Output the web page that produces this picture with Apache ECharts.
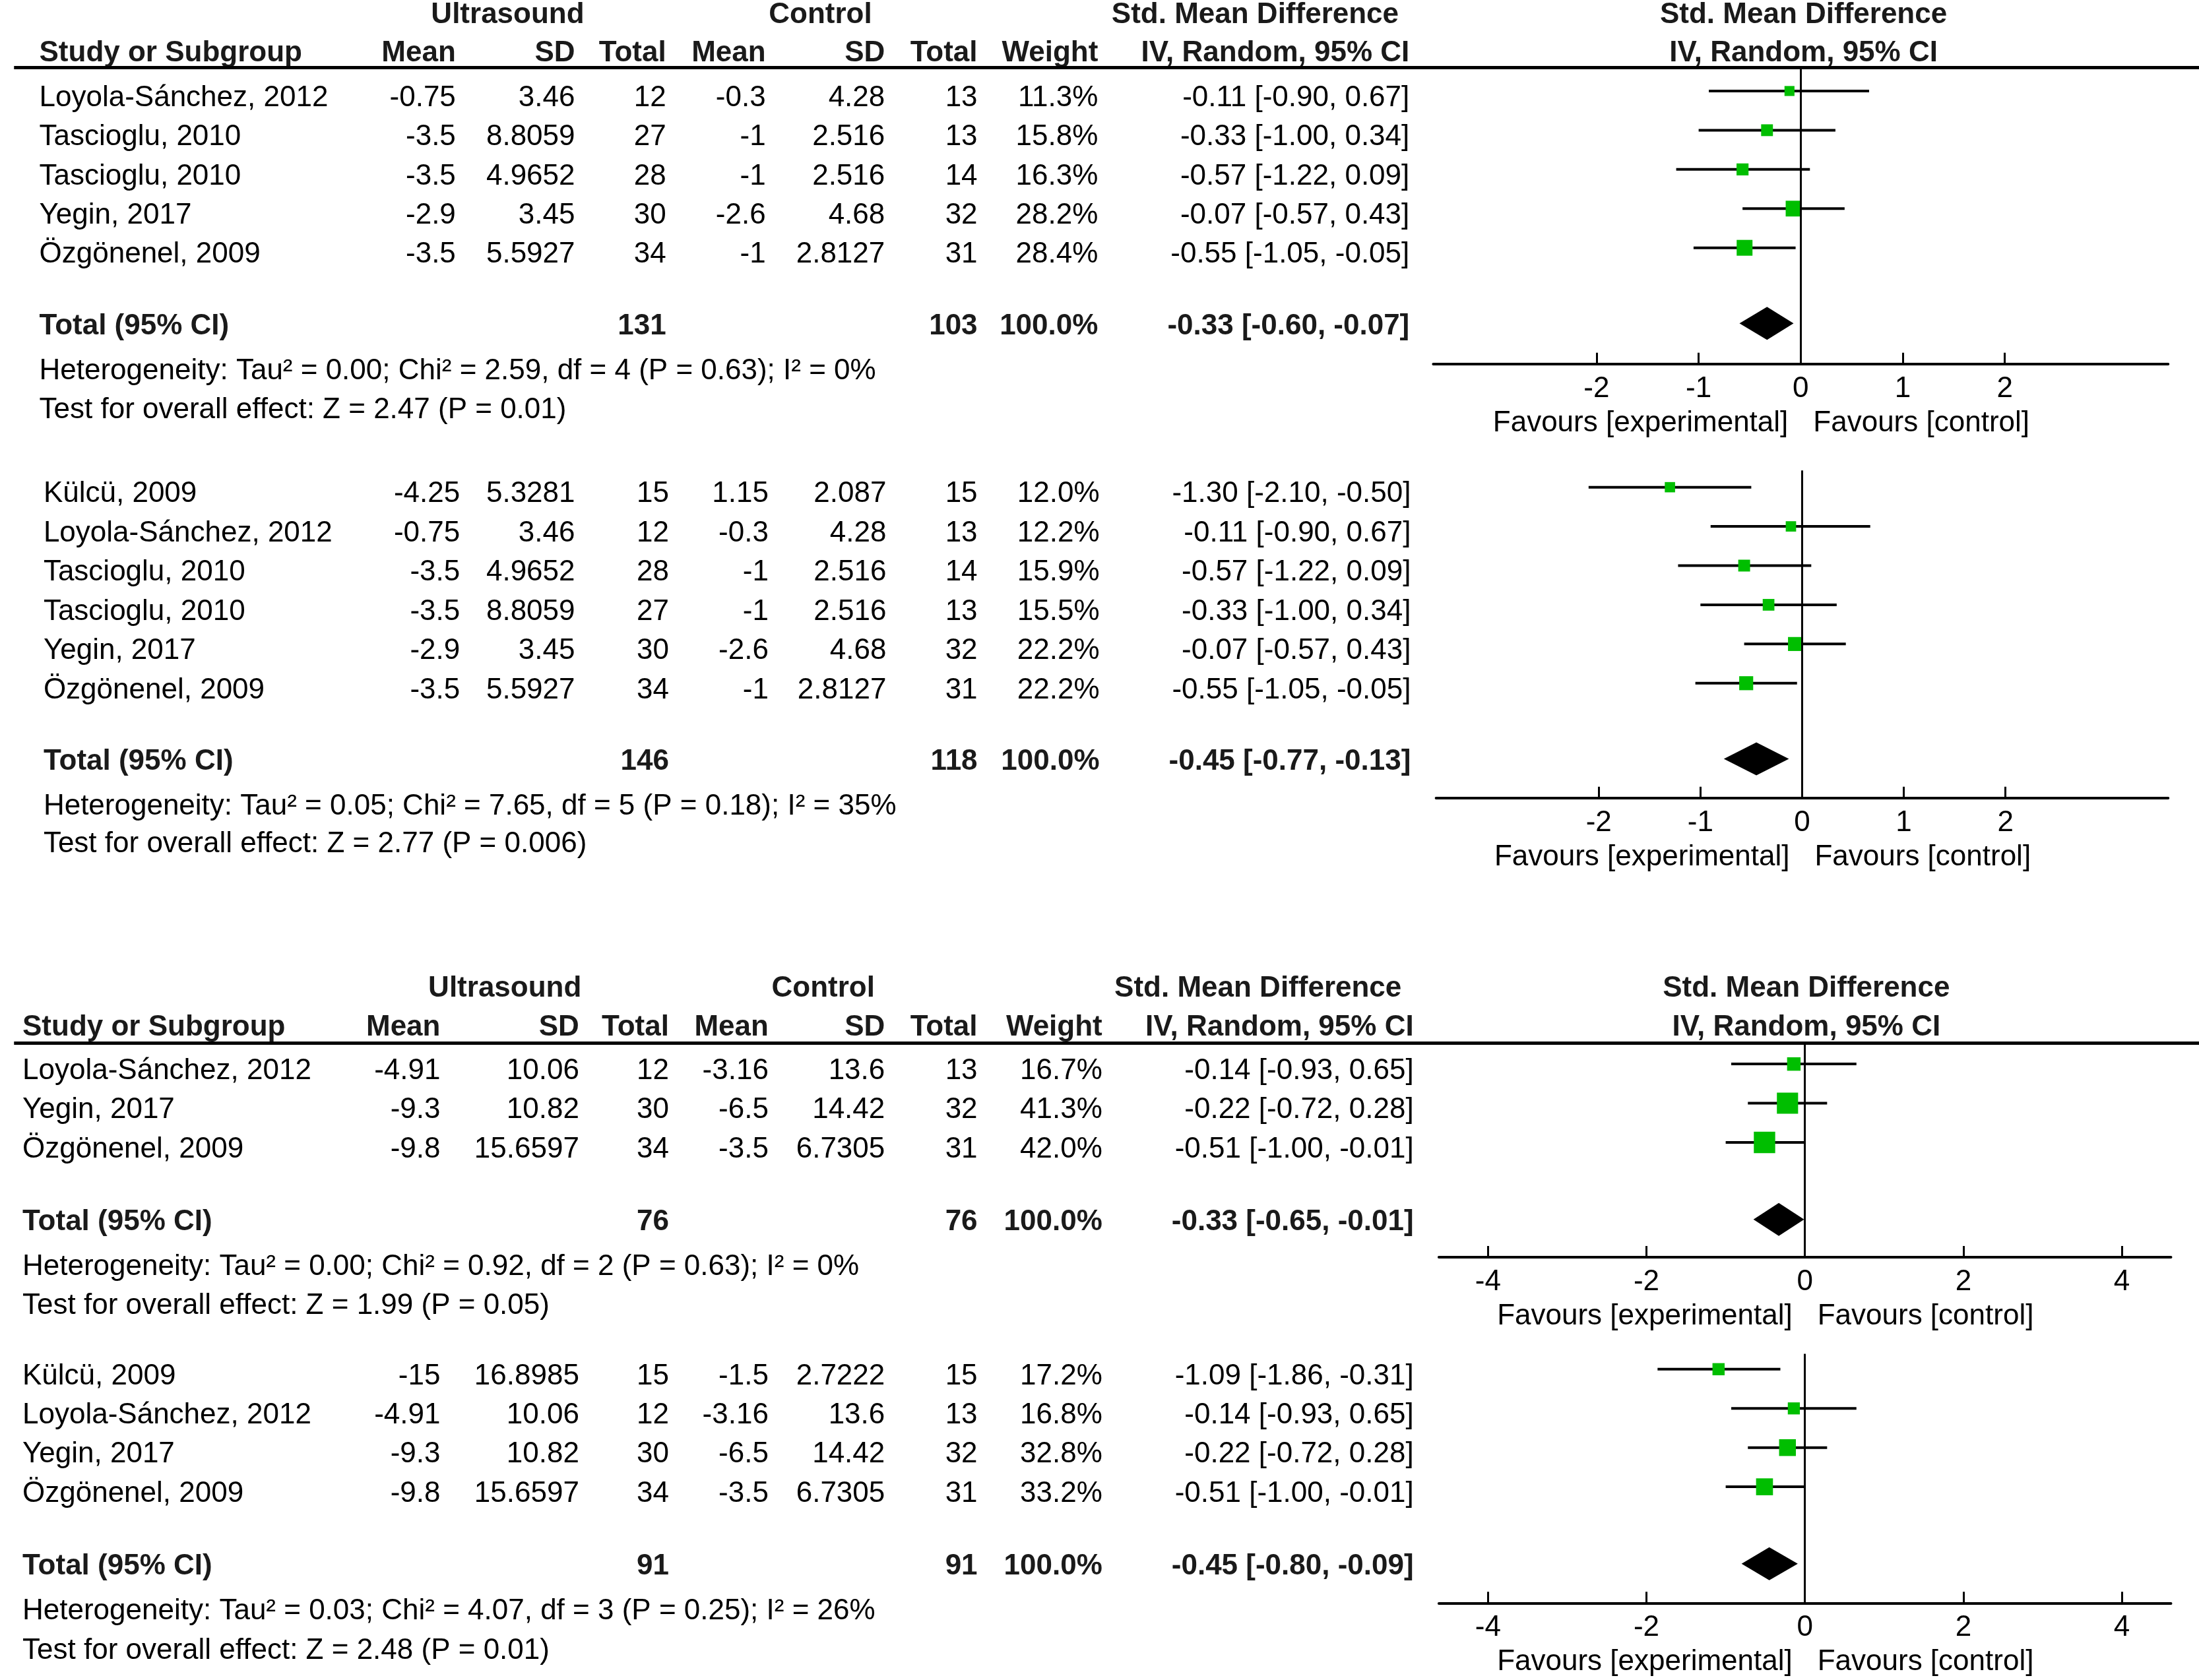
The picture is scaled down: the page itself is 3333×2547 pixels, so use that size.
<!DOCTYPE html>
<html><head><meta charset="utf-8">
<script src="https://cdn.jsdelivr.net/npm/echarts@6/dist/echarts.min.js"></script>
<style>html,body{margin:0;padding:0;background:#fff}#c{width:3333px;height:2547px}</style>
</head><body><div id="c"></div>
<script>
// ---------------- DATA ----------------
// Panel 1
const p1Study = ['Loyola-Sánchez, 2012','Tascioglu, 2010','Tascioglu, 2010','Yegin, 2017','Özgönenel, 2009'];
const p1UsMean = [-0.75, -3.5, -3.5, -2.9, -3.5];
const p1UsSD = [3.46, 8.8059, 4.9652, 3.45, 5.5927];
const p1UsN = [12, 27, 28, 30, 34];
const p1CtMean = [-0.3, -1, -1, -2.6, -1];
const p1CtSD = [4.28, 2.516, 2.516, 4.68, 2.8127];
const p1CtN = [13, 13, 14, 32, 31];
const p1Weight = [11.3, 15.8, 16.3, 28.2, 28.4];
const p1Smd = [-0.11, -0.33, -0.57, -0.07, -0.55];
const p1Lo = [-0.90, -1.00, -1.22, -0.57, -1.05];
const p1Hi = [0.67, 0.34, 0.09, 0.43, -0.05];
const p1Totals = [131, 103, 100.0];
const p1Pooled = [-0.33, -0.60, -0.07];
const p1Het = 'Heterogeneity: Tau² = 0.00; Chi² = 2.59, df = 4 (P = 0.63); I² = 0%';
const p1Test = 'Test for overall effect: Z = 2.47 (P = 0.01)';
// Panel 2
const p2Study = ['Külcü, 2009','Loyola-Sánchez, 2012','Tascioglu, 2010','Tascioglu, 2010','Yegin, 2017','Özgönenel, 2009'];
const p2UsMean = [-4.25, -0.75, -3.5, -3.5, -2.9, -3.5];
const p2UsSD = [5.3281, 3.46, 4.9652, 8.8059, 3.45, 5.5927];
const p2UsN = [15, 12, 28, 27, 30, 34];
const p2CtMean = [1.15, -0.3, -1, -1, -2.6, -1];
const p2CtSD = [2.087, 4.28, 2.516, 2.516, 4.68, 2.8127];
const p2CtN = [15, 13, 14, 13, 32, 31];
const p2Weight = [12.0, 12.2, 15.9, 15.5, 22.2, 22.2];
const p2Smd = [-1.30, -0.11, -0.57, -0.33, -0.07, -0.55];
const p2Lo = [-2.10, -0.90, -1.22, -1.00, -0.57, -1.05];
const p2Hi = [-0.50, 0.67, 0.09, 0.34, 0.43, -0.05];
const p2Totals = [146, 118, 100.0];
const p2Pooled = [-0.45, -0.77, -0.13];
const p2Het = 'Heterogeneity: Tau² = 0.05; Chi² = 7.65, df = 5 (P = 0.18); I² = 35%';
const p2Test = 'Test for overall effect: Z = 2.77 (P = 0.006)';
// Panel 3
const p3Study = ['Loyola-Sánchez, 2012','Yegin, 2017','Özgönenel, 2009'];
const p3UsMean = [-4.91, -9.3, -9.8];
const p3UsSD = [10.06, 10.82, 15.6597];
const p3UsN = [12, 30, 34];
const p3CtMean = [-3.16, -6.5, -3.5];
const p3CtSD = [13.6, 14.42, 6.7305];
const p3CtN = [13, 32, 31];
const p3Weight = [16.7, 41.3, 42.0];
const p3Smd = [-0.14, -0.22, -0.51];
const p3Lo = [-0.93, -0.72, -1.00];
const p3Hi = [0.65, 0.28, -0.01];
const p3Totals = [76, 76, 100.0];
const p3Pooled = [-0.33, -0.65, -0.01];
const p3Het = 'Heterogeneity: Tau² = 0.00; Chi² = 0.92, df = 2 (P = 0.63); I² = 0%';
const p3Test = 'Test for overall effect: Z = 1.99 (P = 0.05)';
// Panel 4
const p4Study = ['Külcü, 2009','Loyola-Sánchez, 2012','Yegin, 2017','Özgönenel, 2009'];
const p4UsMean = [-15, -4.91, -9.3, -9.8];
const p4UsSD = [16.8985, 10.06, 10.82, 15.6597];
const p4UsN = [15, 12, 30, 34];
const p4CtMean = [-1.5, -3.16, -6.5, -3.5];
const p4CtSD = [2.7222, 13.6, 14.42, 6.7305];
const p4CtN = [15, 13, 32, 31];
const p4Weight = [17.2, 16.8, 32.8, 33.2];
const p4Smd = [-1.09, -0.14, -0.22, -0.51];
const p4Lo = [-1.86, -0.93, -0.72, -1.00];
const p4Hi = [-0.31, 0.65, 0.28, -0.01];
const p4Totals = [91, 91, 100.0];
const p4Pooled = [-0.45, -0.80, -0.09];
const p4Het = 'Heterogeneity: Tau² = 0.03; Chi² = 4.07, df = 3 (P = 0.25); I² = 26%';
const p4Test = 'Test for overall effect: Z = 2.48 (P = 0.01)';

const groupHeaders = ['Ultrasound', 'Control', 'Std. Mean Difference'];
const colHeaders = ['Study or Subgroup', 'Mean', 'SD', 'Total', 'Mean', 'SD', 'Total', 'Weight', 'IV, Random, 95% CI'];
const totalLabel = 'Total (95% CI)';
const favLeft = 'Favours [experimental]';
const favRight = 'Favours [control]';
const ticksNarrow = [-2, -1, 0, 1, 2];
const ticksWide = [-4, -2, 0, 2, 4];

// ---------------- LAYOUT (reference units, 1568 x 1200) ----------------
const W = 3333, H = 2547, RW = 1568, RH = 1200;
const colsA = {name:28, mean:325, sd:410, tot:475, cm:546, csd:631, ct:697, w:783, ci:1005};
const colsB = {name:31, mean:328, sd:410, tot:477, cm:548, csd:632, ct:697, w:784, ci:1006};
const colsC = {name:16, mean:314, sd:413, tot:477, cm:548, csd:631, ct:697, w:786, ci:1008};
const layout = [
  {hdr:[9,36], line:48, rows:[68,96,124,152,180], total:231, het:263, test:291, zeroTop:48, axis:260, dom:3.6, ticks:ticksNarrow, fx:[1022,1546], cols:colsA, grp:[362,585,895,1286], k:4.5},
  {rows:[351,379,407,435,463,491], total:542, het:574, test:601, zeroTop:336, axis:570, dom:3.6, ticks:ticksNarrow, fx:[1024,1546], cols:colsB, k:4.5},
  {hdr:[704,732], line:745, rows:[763,791,819], total:871, het:903, test:931, zeroTop:745, axis:898, dom:4.62, ticks:ticksWide, fx:[1026,1548], cols:colsC, grp:[360,587,897,1288], k:5.0},
  {rows:[981,1009,1037,1065], total:1117, het:1149, test:1177, zeroTop:967, axis:1145, dom:4.62, ticks:ticksWide, fx:[1026,1548], cols:colsC, k:4.45}
];
const markShift = -3;
const textShift = 2;
const FONT = '"Liberation Sans", Arial, sans-serif';
const FS = 44;

// ---------------- BUILD ----------------
const panels = [
  {study:p1Study, um:p1UsMean, us:p1UsSD, un:p1UsN, cm:p1CtMean, cs:p1CtSD, cn:p1CtN, w:p1Weight, smd:p1Smd, lo:p1Lo, hi:p1Hi, tot:p1Totals, pool:p1Pooled, het:p1Het, test:p1Test},
  {study:p2Study, um:p2UsMean, us:p2UsSD, un:p2UsN, cm:p2CtMean, cs:p2CtSD, cn:p2CtN, w:p2Weight, smd:p2Smd, lo:p2Lo, hi:p2Hi, tot:p2Totals, pool:p2Pooled, het:p2Het, test:p2Test},
  {study:p3Study, um:p3UsMean, us:p3UsSD, un:p3UsN, cm:p3CtMean, cs:p3CtSD, cn:p3CtN, w:p3Weight, smd:p3Smd, lo:p3Lo, hi:p3Hi, tot:p3Totals, pool:p3Pooled, het:p3Het, test:p3Test},
  {study:p4Study, um:p4UsMean, us:p4UsSD, un:p4UsN, cm:p4CtMean, cs:p4CtSD, cn:p4CtN, w:p4Weight, smd:p4Smd, lo:p4Lo, hi:p4Hi, tot:p4Totals, pool:p4Pooled, het:p4Het, test:p4Test}
];
const f2 = v => v.toFixed(2);
const ciText = (e, l, h) => f2(e) + ' [' + f2(l) + ', ' + f2(h) + ']';

// measure favours labels so the gap between them sits on zero
const mctx = document.createElement('canvas').getContext('2d');
mctx.font = FS + 'px ' + FONT;
const wFavL = mctx.measureText(favLeft).width;
const wFavR = mctx.measureText(favRight).width;
const favGap = 19;
const padL = Math.max(0, wFavR - wFavL), padR = Math.max(0, wFavL - wFavR);

const texts = [];
const lines = [];
function T(x, y, text, align, bold){ texts.push({x, y: y + textShift, text, align, bold}); }

panels.forEach((p, pi) => {
  const L = layout[pi], c = L.cols;
  if (L.hdr) {
    const y0 = L.hdr[0], y1 = L.hdr[1];
    T(L.grp[0], y0, groupHeaders[0], 'center', true);
    T(L.grp[1], y0, groupHeaders[1], 'center', true);
    T(L.grp[2], y0, groupHeaders[2], 'center', true);
    T(L.grp[3], y0, groupHeaders[2], 'center', true);
    T(c.name, y1, colHeaders[0], 'left', true);
    T(c.mean, y1, colHeaders[1], 'right', true);
    T(c.sd, y1, colHeaders[2], 'right', true);
    T(c.tot, y1, colHeaders[3], 'right', true);
    T(c.cm, y1, colHeaders[4], 'right', true);
    T(c.csd, y1, colHeaders[5], 'right', true);
    T(c.ct, y1, colHeaders[6], 'right', true);
    T(c.w, y1, colHeaders[7], 'right', true);
    T(c.ci, y1, colHeaders[8], 'right', true);
    T(L.grp[3], y1, colHeaders[8], 'center', true);
    lines.push([{coord:[10, L.line]}, {coord:[RW, L.line]}]);
  }
  p.study.forEach((s, i) => {
    const y = L.rows[i];
    T(c.name, y, s, 'left', false);
    T(c.mean, y, String(p.um[i]), 'right', false);
    T(c.sd, y, String(p.us[i]), 'right', false);
    T(c.tot, y, String(p.un[i]), 'right', false);
    T(c.cm, y, String(p.cm[i]), 'right', false);
    T(c.csd, y, String(p.cs[i]), 'right', false);
    T(c.ct, y, String(p.cn[i]), 'right', false);
    T(c.w, y, p.w[i].toFixed(1) + '%', 'right', false);
    T(c.ci, y, ciText(p.smd[i], p.lo[i], p.hi[i]), 'right', false);
  });
  T(c.name, L.total, totalLabel, 'left', true);
  T(c.tot, L.total, String(p.tot[0]), 'right', true);
  T(c.ct, L.total, String(p.tot[1]), 'right', true);
  T(c.w, L.total, p.tot[2].toFixed(1) + '%', 'right', true);
  T(c.ci, L.total, ciText(p.pool[0], p.pool[1], p.pool[2]), 'right', true);
  T(c.name, L.het, p.het, 'left', false);
  T(c.name, L.test, p.test, 'left', false);
});

const grids = [{left:0, top:0, width:W, height:H}];
const xAxes = [{gridIndex:0, type:'value', min:0, max:RW, show:false}];
const yAxes = [{gridIndex:0, type:'value', min:0, max:RH, inverse:true, show:false}];
const series = [{
  type:'custom', xAxisIndex:0, yAxisIndex:0, silent:true,
  data: texts.map(t => [t.x, t.y]),
  encode:{x:0, y:1},
  renderItem: (params, api) => {
    const t = texts[params.dataIndex];
    const pt = api.coord([api.value(0), api.value(1)]);
    return {type:'text', x:pt[0], y:pt[1], style:{
      text:t.text, fill: t.bold ? '#1a1a1a' : '#000',
      font: (t.bold ? 'bold ' : '') + FS + 'px ' + FONT,
      align:t.align, verticalAlign:'middle'}};
  },
  markLine:{silent:true, symbol:['none','none'], label:{show:false},
    lineStyle:{color:'#000', width:5, type:'solid'}, data:lines}
}];

layout.forEach((L, pi) => {
  const p = panels[pi];
  const gi = pi + 1;
  const sx = W / RW, sy = H / RH;
  grids.push({left:L.fx[0]*sx, width:(L.fx[1]-L.fx[0])*sx, top:L.zeroTop*sy, height:(L.axis-L.zeroTop)*sy});
  xAxes.push({gridIndex:gi, type:'value', min:-L.dom, max:L.dom,
    axisLine:{show:true, onZero:false, lineStyle:{color:'#000', width:4}},
    axisTick:{show:true, inside:true, length:17, customValues:L.ticks, lineStyle:{color:'#000', width:3}},
    axisLabel:{show:true, customValues:L.ticks, margin:16, color:'#000', fontSize:FS, fontFamily:FONT},
    splitLine:{show:false},
    name:'{l|' + favLeft + '}{r|' + favRight + '}', nameLocation:'middle', nameGap:68,
    nameTextStyle:{color:'#000', fontSize:FS, fontFamily:FONT, rich:{
      l:{padding:[0, favGap, 0, padL], fontSize:FS, fontFamily:FONT, color:'#000'},
      r:{padding:[0, padR, 0, favGap], fontSize:FS, fontFamily:FONT, color:'#000'}}}
  });
  yAxes.push({gridIndex:gi, type:'value', min:L.zeroTop, max:L.axis, inverse:true, show:false});
  const k = L.k;
  series.push({
    type:'custom', xAxisIndex:gi, yAxisIndex:gi, silent:true, z:3,
    data: p.smd.map((e, i) => [e, L.rows[i] + markShift, p.lo[i], p.hi[i], p.w[i]]),
    encode:{x:0, y:1},
    renderItem: (params, api) => {
      const e = api.value(0), y = api.value(1), lo = api.value(2), hi = api.value(3), w = api.value(4);
      const a = api.coord([lo, y]), b = api.coord([hi, y]), c = api.coord([e, y]);
      const s = k * Math.sqrt(w);
      return {type:'group', children:[
        {type:'line', shape:{x1:a[0], y1:a[1], x2:b[0], y2:b[1]}, style:{stroke:'#000', lineWidth:4}},
        {type:'rect', shape:{x:c[0]-s/2, y:c[1]-s/2, width:s, height:s}, style:{fill:'#00BE00'}}
      ]};
    },
    markLine:{silent:true, symbol:['none','none'], label:{show:false},
      lineStyle:{color:'#000', width:3, type:'solid'}, data:[{xAxis:0}]}
  });
  series.push({
    type:'custom', xAxisIndex:gi, yAxisIndex:gi, silent:true, z:4,
    data: [[p.pool[0], L.total, p.pool[1], p.pool[2]]],
    encode:{x:0, y:1},
    renderItem: (params, api) => {
      const e = api.value(0), y = api.value(1), lo = api.value(2), hi = api.value(3);
      const a = api.coord([lo, y]), b = api.coord([hi, y]), c = api.coord([e, y]);
      return {type:'polygon', shape:{points:[[a[0], c[1]], [c[0], c[1]-25], [b[0], c[1]], [c[0], c[1]+25]]},
        style:{fill:'#000'}};
    }
  });
});

const chart = echarts.init(document.getElementById('c'), null, {renderer:'canvas'});
chart.setOption({animation:false, backgroundColor:'#fff', grid:grids, xAxis:xAxes, yAxis:yAxes, series:series});
</script></body></html>
